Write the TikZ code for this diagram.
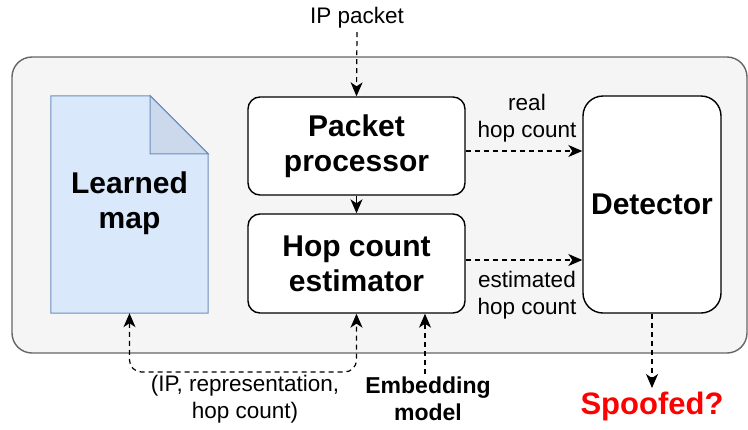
\documentclass[tikz,border=0pt]{standalone}
\usepackage{fontspec}
\setmainfont{Liberation Sans}
\usetikzlibrary{arrows.meta}
\definecolor{boxgray}{HTML}{F5F5F5}
\definecolor{linegray}{HTML}{666666}
\definecolor{mapblue}{HTML}{DAE8FC}
\definecolor{mapline}{HTML}{6C8EBF}
\definecolor{foldblue}{RGB}{204,216,236}
\tikzset{
  block/.style={draw,line width=1.4pt,fill=white,rounded corners=12pt,align=center,
    font=\fontsize{30}{35}\selectfont\bfseries},
  small/.style={align=center,font=\fontsize{22.5}{27}\selectfont},
  tip/.tip={Stealth[length=14pt,width=12pt,inset=4pt]},
  flow/.style={line width=1.2pt,-tip},
  dflow/.style={flow,dash pattern=on 5pt off 4pt}
}
\begin{document}
\begin{tikzpicture}[x=1pt,y=-1pt]
    \useasboundingbox (0,0) rectangle (748,429);
    % Container
    \draw[linegray,line width=1.4pt,fill=boxgray,rounded corners=20pt] (12,57) rectangle (747,353);
    % Learned map
    \node[minimum width=157pt,minimum height=217pt,inner sep=0pt] (map) at (129.5,204.5) {};
    \draw[mapline,fill=mapblue,line width=1pt] (map.south west) -- (map.north west) -- ([xshift=-58pt]map.north east)
        -- ([yshift=-58pt]map.north east) -- (map.south east) -- cycle;
    \draw[mapline,fill=foldblue,line width=1pt] ([xshift=-58pt]map.north east) -- ([xshift=-58pt,yshift=-58pt]map.north east)
        -- ([yshift=-58pt]map.north east) -- cycle;
    \node[align=center,font=\fontsize{30}{35}\selectfont\bfseries] at (129.5,203) {Learned\\map};
    % Blocks
    \node[block,minimum width=217pt,minimum height=98pt] (pp) at (356.5,146) {Packet\\processor};
    \node[block,minimum width=217pt,minimum height=99pt] (est) at (356.5,263.5) {Hop count\\estimator};
    \node[block,rounded corners=20pt,minimum width=138pt,minimum height=217pt] (det) at (652,204.5) {Detector};
    % Texts
    \node[small] (ip) at (357,18) {IP packet};
    \node[small] (real) at (527,118) {real\\hop count};
    \node[small] (estim) at (527,295) {estimated\\hop count};
    \node[small] (tuple) at (245,399) {(IP, representation,\\hop count)};
    \node[align=center,font=\fontsize{23}{27}\selectfont\bfseries] (emb) at (428,399) {Embedding\\model};
    \node[font=\fontsize{31}{36}\selectfont\bfseries,text=red] (spoof) at (652,406) {Spoofed?};
    \coordinate (loop) at (245,372);
    \coordinate (realout) at ([yshift=-5pt]pp.east);
    \coordinate (estout) at ([yshift=3.5pt]est.east);
    \coordinate (embin) at ([xshift=-3pt]emb.north);
    % Arrows
    \draw[dflow] (ip.south) -- (pp.north);
    \draw[flow] (pp.south) -- (est.north);
    \draw[dflow] (realout) -- (det.west |- realout);
    \draw[dflow] (estout) -- (det.west |- estout);
    \draw[dflow] (det.south) -- (spoof.north);
    \draw[dflow,tip-tip,rounded corners=12pt] (map.south) |- (loop) -| (est.south);
    \draw[dflow] (embin) -- (embin |- est.south);
\end{tikzpicture}
\end{document}
